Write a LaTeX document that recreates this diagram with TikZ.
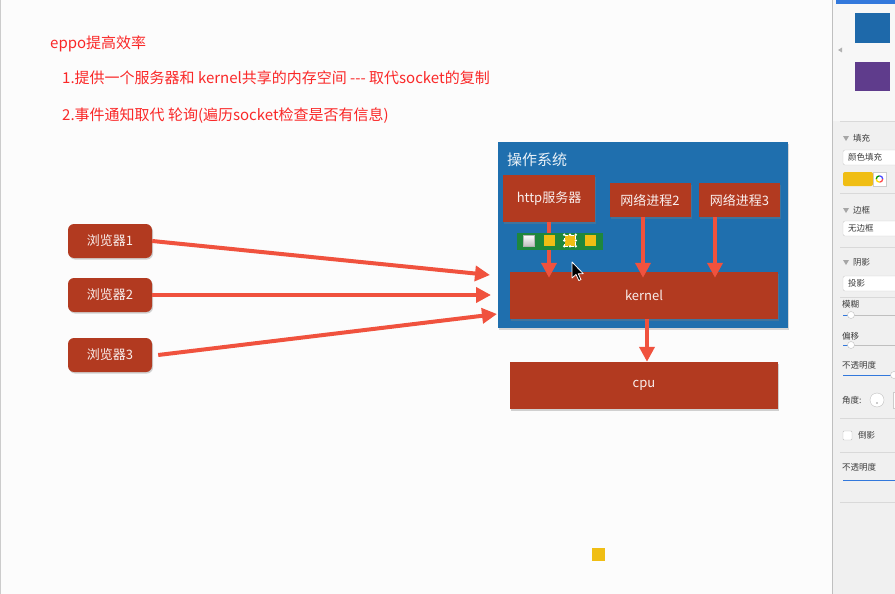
\documentclass[tikz,border=0pt]{standalone}
\usepackage{fontspec}
\setmainfont{Noto Sans CJK SC}
\usetikzlibrary{arrows.meta,shadows}
\definecolor{bgc}{RGB}{252,252,252}
\definecolor{osblue}{RGB}{31,111,174}
\definecolor{boxred}{RGB}{178,58,32}
\definecolor{arrred}{RGB}{240,82,62}
\definecolor{titlered}{RGB}{250,40,40}
\definecolor{tbgreen}{RGB}{30,135,60}
\definecolor{yel}{RGB}{240,190,20}
\definecolor{panelbg}{RGB}{240,240,240}
\definecolor{paneltop}{RGB}{247,247,247}
\definecolor{paneltxt}{RGB}{60,60,60}
\definecolor{sliderblue}{RGB}{50,120,220}
\definecolor{thumbblue}{RGB}{30,105,170}
\definecolor{thumbpurple}{RGB}{95,60,140}
\begin{document}
\begin{tikzpicture}[x=1pt,y=-1pt,
  redbox/.style={fill=boxred, text=white!92!boxred, font=\fontsize{13}{15}\selectfont, inner sep=0pt,
    drop shadow={shadow xshift=1pt,shadow yshift=-1.5pt,opacity=0.35}},
  browser/.style={redbox, rounded corners=6pt, minimum width=84pt, minimum height=34pt},
  arr/.style={draw=arrred, line width=4pt, -{Triangle[length=15pt,width=15pt]}},
  titletxt/.style={text=titlered, font=\fontsize{15}{18}\selectfont, anchor=west, inner sep=0pt},
  ptxt/.style={text=paneltxt, font=\fontsize{8.5}{10}\selectfont, anchor=west, inner sep=0pt},
  sq/.style={minimum width=11pt, minimum height=11pt, inner sep=0pt},
  sep/.style={draw=gray!30, line width=0.6pt},
  tri/.style={fill=gray!70},
  dropbox/.style={draw=gray!40, fill=white, rounded corners=2pt},
]
\useasboundingbox (0,0) rectangle (895,594);
\fill[bgc] (0,0) rectangle (895,594);
\draw[gray!40] (0.5,0) -- (0.5,594);

% titles
\node[titletxt] (t0) at (50,44) {eppo提高效率};
\node[titletxt] (t1) at (62,78) {1.提供一个服务器和 kernel共享的内存空间 -{}-{}- 取代socket的复制};
\node[titletxt] (t2) at (62,116) {2.事件通知取代 轮询(遍历socket检查是否有信息)};

% OS box
\node[fill=osblue, minimum width=290pt, minimum height=186pt, inner sep=0pt,
  drop shadow={shadow xshift=1pt,shadow yshift=-1.5pt,opacity=0.3}] (os) at (643,235) {};
\node[text=white!90!osblue, font=\fontsize{15}{18}\selectfont, anchor=west, inner sep=0pt] (oslabel) at (507,160) {操作系统};

\node[redbox, minimum width=92pt, minimum height=47pt] (http) at (549,198.5) {http服务器};
\node[redbox, minimum width=81pt, minimum height=34pt] (net2) at (650,200) {网络进程2};
\node[redbox, minimum width=81pt, minimum height=34pt] (net3) at (739.5,200) {网络进程3};
\node[redbox, minimum width=268pt, minimum height=47pt] (kernel) at (644,295.5) {kernel};
\node[redbox, minimum width=268pt, minimum height=47pt] (cpu) at (644,385.5) {cpu};

% browsers
\node[browser] (b1) at (110,241) {浏览器1};
\node[browser] (b2) at (110,295) {浏览器2};
\node[browser] (b3) at (110,355) {浏览器3};

\coordinate (e1) at (490,275);
\coordinate (e2) at (491,295);
\coordinate (e3) at (497,314);
\draw[arr] (b1.east) -- (e1);
\draw[arr] (b2.east) -- (e2);
\draw[arr] ([xshift=6pt]b3.east) -- (e3);

% vertical arrows
\draw[arr, shorten >=-6pt] (http.south) -- (http.south |- kernel.north);
\draw[arr, shorten >=-6pt] ([xshift=-7pt]net2.south) -- ([xshift=-7pt]net2.south |- kernel.north);
\draw[arr, shorten >=-6pt] ([xshift=-24.5pt]net3.south) -- ([xshift=-24.5pt]net3.south |- kernel.north);
\draw[arr] ([xshift=3pt]kernel.south) -- ([xshift=3pt]kernel.south |- cpu.north);

% toolbar
\node[fill=tbgreen, minimum width=86pt, minimum height=17pt, inner sep=0pt] (tb) at (560,241) {};
\node[sq, top color=white, bottom color=gray!50, draw=gray!60, line width=0.3pt] (s1) at (529,240.5) {};
\node[sq, fill=yel] (s2) at (549,240.5) {};
\node[sq, fill=yel, draw=white, dashed, line width=0.6pt] (s3) at (570,240.5) {};
\foreach \c in {north west, north east, south west, south east, north, south, east, west}
  \fill[white] (s3.\c) circle (1.3pt);
\node[sq, fill=yel] (s4) at (590,240.5) {};

% cursor
\draw[white, fill=black, line width=0.8pt, line join=round, shift={(572,262)}]
  (0,0) -- (0,16) -- (4,12.5) -- (6.8,18.5) -- (9,17.6) -- (6.3,11.7) -- (11.3,11.7) -- cycle;

% bottom yellow square
\node[minimum width=13pt, minimum height=13pt, inner sep=0pt, fill=yel,
  drop shadow={shadow xshift=0.6pt,shadow yshift=-0.8pt,opacity=0.25}] (ysq) at (598,554) {};

% right panel
\fill[panelbg] (832,0) rectangle (895,594);
\fill[paneltop] (832,0) rectangle (895,121);
\draw[gray!50] (832.5,0) -- (832.5,594);
\fill[sliderblue] (836,0) rectangle (895,4);
\fill[thumbblue] (855,13) rectangle (890,43);
\fill[thumbpurple] (855,62) rectangle (890,91);
\fill[gray!60] (838,50) -- (842,47.5) -- (842,52.5) -- cycle;
\foreach \yy in {121,193,247,297,418,452,502}
  \draw[sep] (840,\yy) -- (895,\yy);

\fill[tri] (843,136) -- (849,136) -- (846,141) -- cycle;
\node[ptxt] (p1) at (853,138) {填充};
\draw[dropbox] (843,150) rectangle (902,165);
\node[ptxt] (p2) at (848,157.5) {颜色填充};
\fill[yel, rounded corners=2pt] (843,172) rectangle (873,186);
\draw[gray!40, fill=white] (873,172) rectangle (886,186);
\draw[red!70, line width=1.3pt] (879.5,179) ++(0:3.2) arc (0:90:3.2);
\draw[yellow!80!orange, line width=1.3pt] (879.5,179) ++(90:3.2) arc (90:180:3.2);
\draw[green!60!black, line width=1.3pt] (879.5,179) ++(180:3.2) arc (180:270:3.2);
\draw[blue!70, line width=1.3pt] (879.5,179) ++(270:3.2) arc (270:360:3.2);

\fill[tri] (843,208) -- (849,208) -- (846,213) -- cycle;
\node[ptxt] (p3) at (853,210) {边框};
\draw[dropbox] (843,221) rectangle (902,236);
\node[ptxt] (p4) at (848,228.5) {无边框};

\fill[tri] (843,260) -- (849,260) -- (846,265) -- cycle;
\node[ptxt] (p5) at (853,262) {阴影};
\draw[dropbox] (843,276) rectangle (902,291);
\node[ptxt] (p6) at (848,283.5) {投影};

\node[ptxt] (p7) at (842,304) {模糊};
\draw[gray!50, line width=0.8pt] (843,315) -- (895,315);
\draw[sliderblue, line width=1pt] (843,315) -- (849,315);
\draw[gray!50, fill=white] (851,315) circle (3.5pt);

\node[ptxt] (p8) at (842,336) {偏移};
\draw[gray!50, line width=0.8pt] (843,345) -- (895,345);
\draw[sliderblue, line width=1pt] (843,345) -- (849,345);
\draw[gray!50, fill=white] (851,345) circle (3.5pt);

\node[ptxt] (p9) at (842,365) {不透明度};
\draw[sliderblue, line width=1pt] (843,375) -- (891,375);
\draw[gray!50, fill=white] (894,375) circle (3.5pt);

\node[ptxt] (p10) at (842,400) {角度:};
\draw[gray!50, fill=white] (877,400) circle (7pt);
\fill[gray!80] (877,403) circle (0.9pt);
\draw[gray!40, fill=white] (893,392) rectangle (902,408);

\draw[gray!50, fill=white, rounded corners=1pt] (843,431) rectangle (852,440);
\node[ptxt] (p11) at (858,435.5) {倒影};

\node[ptxt] (p12) at (842,467) {不透明度};
\draw[sliderblue, line width=1pt] (843,480) -- (895,480);
\end{tikzpicture}
\end{document}
